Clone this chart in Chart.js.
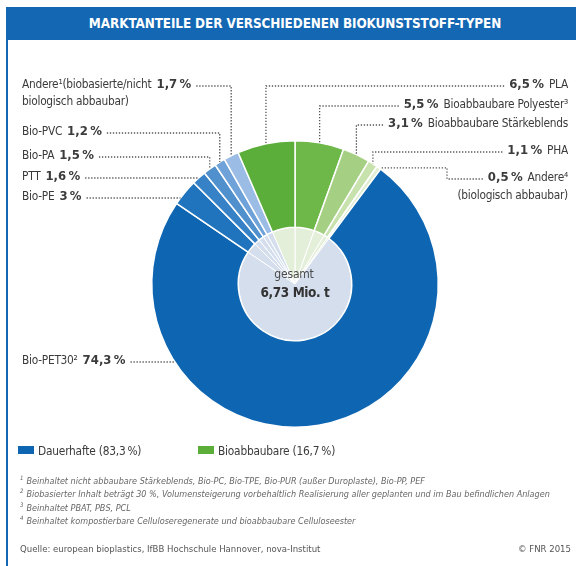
<!DOCTYPE html>
<html lang="de">
<head>
<meta charset="utf-8">
<title>Marktanteile der verschiedenen Biokunststoff-Typen</title>
<script src="https://cdn.jsdelivr.net/npm/chart.js@4.4.1/dist/chart.umd.min.js"></script>
<style>
  html, body { margin: 0; padding: 0; background: #fff; }
  body { font-family: "Liberation Sans Narrow", "DejaVu Sans Condensed", sans-serif; color: #3b3b3b; }
  #frame { position: relative; width: 576px; height: 566px; overflow: hidden; }
  #chart { position: absolute; left: 0; top: 0; }
  #header { position: absolute; left: 6px; top: 7px; width: 578px; height: 33px; background: #1467b3; color: #fff;
            font-weight: bold; font-size: 13.4px; letter-spacing: -0.1px; line-height: 33px; text-align: center; }
  #leftline { position: absolute; left: 6px; top: 40px; width: 2px; height: 526px; background: #1467b3; }
  .legend { position: absolute; top: 444px; font-size: 11.8px; letter-spacing: -0.2px; line-height: 14px; }
  .legend span.box { display: inline-block; width: 16px; height: 8px; margin-right: 4px; vertical-align: 1px; }
  #notes { position: absolute; left: 20px; top: 475px; font-size: 9px; font-style: italic; color: #666; line-height: 13.3px; }
  #notes div { height: 13.3px; }
  #notes sup { font-size: 6px; line-height: 0; margin-right: 3px; }
  #source { position: absolute; left: 20px; top: 543px; font-size: 9.5px; color: #555; }
  #copy { position: absolute; right: 5px; top: 543px; font-size: 9.5px; color: #555; }
</style>
</head>
<body>
<div id="frame">
  <canvas id="chart" width="576" height="566"></canvas>
  <div id="header">MARKTANTEILE DER VERSCHIEDENEN BIOKUNSTSTOFF-TYPEN</div>
  <div id="leftline"></div>
  <div class="legend" id="legend-dur" style="left:18px"></div>
  <div class="legend" id="legend-bio" style="left:198px"></div>
  <div id="notes"></div>
  <div id="source">Quelle: european bioplastics, IfBB Hochschule Hannover, nova-Institut</div>
  <div id="copy">© FNR 2015</div>
</div>
<script>
// slices clockwise from 12 o'clock
const sliceNames = [
  ["Bioabbaubare Polyester³"],
  ["Bioabbaubare Stärkeblends"],
  ["PHA"],
  ["Andere⁴", "(biologisch abbaubar)"],
  ["Bio-PET30²"],
  ["Bio-PE"],
  ["PTT"],
  ["Bio-PA"],
  ["Bio-PVC"],
  ["Andere¹(biobasierte/nicht", "biologisch abbaubar)"],
  ["PLA"]
];
const shares = [5.5, 3.1, 1.1, 0.5, 74.3, 3, 1.6, 1.5, 1.2, 1.7, 6.5];
const groups = ["bio", "bio", "bio", "bio", "dur", "dur", "dur", "dur", "dur", "dur", "bio"];
const groupNames = { dur: "Dauerhafte", bio: "Bioabbaubare" };
const totalLabel = "gesamt";
const totalValue = "6,73 Mio. t";
const footnotes = [
  "Beinhaltet nicht abbaubare Stärkeblends, Bio-PC, Bio-TPE, Bio-PUR (außer Duroplaste), Bio-PP, PEF",
  "Biobasierter Inhalt beträgt 30 %, Volumensteigerung vorbehaltlich Realisierung aller geplanten und im Bau befindlichen Anlagen",
  "Beinhaltet PBAT, PBS, PCL",
  "Beinhaltet kompostierbare Celluloseregenerate und bioabbaubare Celluloseester"
];

const outerColors = ["#6db849", "#a5d083", "#c8e2ae", "#dfeed2", "#0e66b2", "#1f74bd", "#3782c6", "#4f90cd", "#6fa2d8", "#9bbce4", "#5aae39"];
const innerColors = groups.map((g) => (g === "bio" ? "#e4efda" : "#d4deed"));
const groupColors = { dur: "#0e66b2", bio: "#5aae39" };

// label placement: side, text row y, leader type
const callouts = [
  { side: "right", y: 105, leader: "elbow" },
  { side: "right", y: 124, leader: "elbow" },
  { side: "right", y: 151, leader: "elbow" },
  { side: "right", y: 178, leader: "step", stepX: 447 },
  { side: "left", y: 361, leader: "flat" },
  { side: "left", y: 197, leader: "flat" },
  { side: "left", y: 177, leader: "flat" },
  { side: "left", y: 156, leader: "elbow" },
  { side: "left", y: 132, leader: "elbow" },
  { side: "left", y: 85, leader: "elbow" },
  { side: "right", y: 85, leader: "elbow" }
];

function pct(v) {
  return String(v).replace(".", ",") + "\u202F%";
}

const FAMILY = '"Liberation Sans Narrow", "DejaVu Sans Condensed", sans-serif';
const NAME_FONT = "11.8px " + FAMILY;
const VALUE_FONT = "bold 13px " + FAMILY;

function setFont(ctx, font, spacing) {
  ctx.font = font;
  ctx.letterSpacing = spacing;
}

const calloutPlugin = {
  id: "callouts",
  afterDatasetsDraw(chart) {
    const ctx = chart.ctx;
    const arcs = chart.getDatasetMeta(0).data;
    ctx.save();
    ctx.textBaseline = "middle";
    ctx.fillStyle = "#3b3b3b";
    arcs.forEach((arc, i) => {
      const c = callouts[i];
      const name = sliceNames[i];
      const val = pct(shares[i]);
      const mid = (arc.startAngle + arc.endAngle) / 2;
      const R = arc.outerRadius;
      const ax = arc.x + Math.cos(mid) * R;
      const ay = arc.y + Math.sin(mid) * R;
      let x, lineStart;
      if (c.side === "left") {
        x = 22;
        ctx.textAlign = "left";
        setFont(ctx, NAME_FONT, "-0.25px");
        ctx.fillText(name[0], x, c.y);
        x += ctx.measureText(name[0]).width + 5;
        setFont(ctx, VALUE_FONT, "-0.3px");
        ctx.fillText(val, x, c.y);
        x += ctx.measureText(val).width + 5;
        lineStart = x;
        if (name[1]) {
          setFont(ctx, NAME_FONT, "-0.25px");
          ctx.fillText(name[1], 22, c.y + 17);
        }
      } else {
        x = 568;
        ctx.textAlign = "right";
        setFont(ctx, NAME_FONT, "-0.25px");
        ctx.fillText(name[0], x, c.y);
        x -= ctx.measureText(name[0]).width + 5;
        setFont(ctx, VALUE_FONT, "-0.3px");
        ctx.fillText(val, x, c.y);
        x -= ctx.measureText(val).width + 5;
        lineStart = x;
        if (name[1]) {
          setFont(ctx, NAME_FONT, "-0.25px");
          ctx.fillText(name[1], 568, c.y + 18);
        }
      }
      const ly = c.y + 1;
      ctx.beginPath();
      ctx.setLineDash([1.3, 1.7]);
      ctx.lineWidth = 1.3;
      ctx.strokeStyle = "#555";
      ctx.moveTo(lineStart, ly);
      if (c.leader === "elbow") {
        ctx.lineTo(ax, ly);
        ctx.lineTo(ax, ay);
      } else if (c.leader === "flat") {
        const dx = Math.sqrt(Math.max(R * R - (ly - arc.y) * (ly - arc.y), 0));
        ctx.lineTo(c.side === "left" ? arc.x - dx : arc.x + dx, ly);
      } else if (c.leader === "step") {
        ctx.lineTo(c.stepX, ly);
        ctx.lineTo(c.stepX, ay);
        ctx.lineTo(ax + 2, ay);
      }
      ctx.stroke();
    });
    // centre text
    const a0 = arcs[0];
    ctx.setLineDash([]);
    ctx.textAlign = "center";
    ctx.fillStyle = "#4a4a4a";
    setFont(ctx, "12px " + FAMILY, "-0.2px");
    ctx.fillText(totalLabel, a0.x - 1, a0.y - 9);
    ctx.fillStyle = "#333";
    setFont(ctx, "bold 13.5px " + FAMILY, "-0.4px");
    ctx.fillText(totalValue, a0.x, a0.y + 9);
    ctx.restore();
  }
};

new Chart(document.getElementById("chart"), {
  type: "doughnut",
  data: {
    labels: sliceNames.map((n) => n.join(" ")),
    datasets: [
      { data: shares, backgroundColor: outerColors, borderColor: "#ffffff", borderWidth: 1.5, weight: 87 },
      { data: shares, backgroundColor: innerColors, borderColor: "#ffffff", borderWidth: 1, weight: 57 }
    ]
  },
  options: {
    responsive: false,
    animation: false,
    cutout: 0,
    layout: { padding: { left: 151, right: 137, top: 140, bottom: 138 } },
    plugins: {
      legend: { display: false },
      tooltip: { enabled: false }
    }
  },
  plugins: [calloutPlugin]
});

// legend with group totals
["dur", "bio"].forEach((g) => {
  const sum = shares.reduce((s, v, i) => (groups[i] === g ? s + v : s), 0);
  const el = document.getElementById("legend-" + g);
  el.innerHTML = '<span class="box" style="background:' + groupColors[g] + '"></span>' +
    groupNames[g] + " (" + sum.toFixed(1).replace(".", ",") + "\u202F%)";
});

document.getElementById("notes").innerHTML = footnotes
  .map((t, i) => "<div><sup>" + (i + 1) + "</sup>" + t + "</div>")
  .join("");
</script>
</body>
</html>
